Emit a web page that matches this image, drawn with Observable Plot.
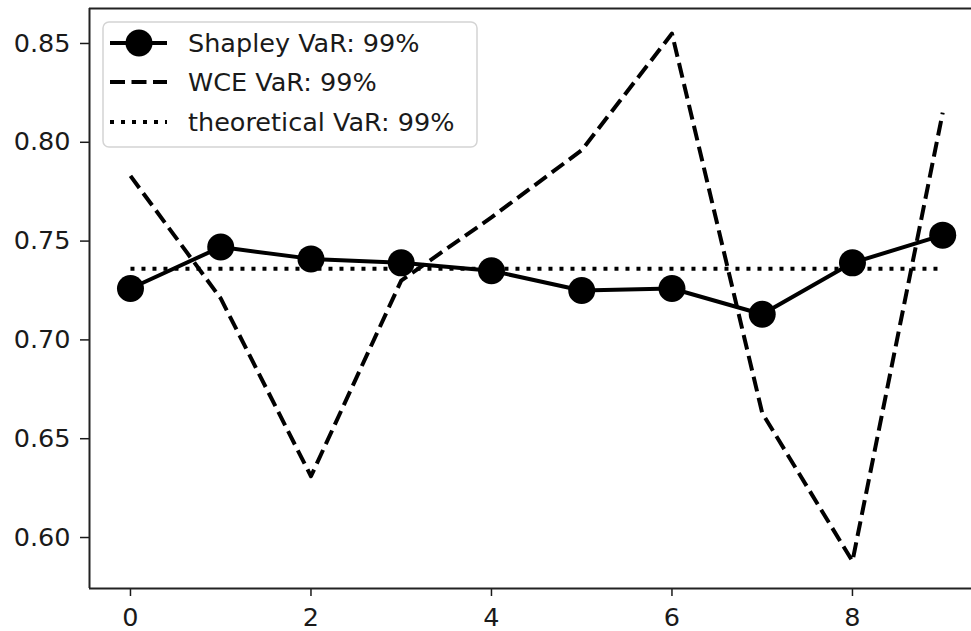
<!DOCTYPE html>
<html>
<head>
<meta charset="utf-8">
<script src="https://cdn.jsdelivr.net/npm/d3@7"></script>
<script src="https://cdn.jsdelivr.net/npm/@observablehq/plot@0.6"></script>
<style>
  html, body { margin: 0; padding: 0; background: #fff; }
  #chart { width: 971px; height: 631px; overflow: hidden; }
</style>
</head>
<body>
<div id="chart"></div>
<script>
// ---- data ----
const xs = [0, 1, 2, 3, 4, 5, 6, 7, 8, 9];
const shapleyVaR = [0.726, 0.747, 0.741, 0.739, 0.735, 0.725, 0.726, 0.713, 0.739, 0.753];
const wceVaR = [0.783, 0.721, 0.631, 0.730, 0.762, 0.796, 0.855, 0.663, 0.588, 0.815];
const theoreticalVaR = 0.736;
const xTicks = [0, 2, 4, 6, 8];
const yTicks = [0.60, 0.65, 0.70, 0.75, 0.80, 0.85];
const seriesLabels = ["Shapley VaR: 99%", "WCE VaR: 99%", "theoretical VaR: 99%"];
const xDomain = [-0.454, 9.319];
const yDomain = [0.5742, 0.8677];

const shapley = xs.map((x, i) => ({x, y: shapleyVaR[i]}));
const wce = xs.map((x, i) => ({x, y: wceVaR[i]}));
const theo = xs.map(x => ({x, y: theoreticalVaR}));

const FONT = "DejaVu Sans, sans-serif";
const LW = 4;

const plot = Plot.plot({
  width: 971,
  height: 631,
  marginLeft: 89,
  marginRight: 0,
  marginTop: 8,
  marginBottom: 43,
  style: {fontFamily: FONT, color: "#1a1a1a", background: "#fff", overflow: "hidden"},
  x: {domain: xDomain},
  y: {domain: yDomain},
  marks: [
    Plot.axisX({ticks: xTicks, tickSize: 8, tickPadding: 11, fontSize: 25.5, label: null, strokeWidth: 1.5}),
    Plot.axisY({ticks: yTicks, tickFormat: d3.format(".2f"), tickSize: 9, tickPadding: 10, fontSize: 25.5, label: null, strokeWidth: 1.5}),
    Plot.line(theo, {x: "x", y: "y", stroke: "#000", strokeWidth: LW, strokeDasharray: "4,7", strokeLinecap: "butt"}),
    Plot.line(wce, {x: "x", y: "y", stroke: "#000", strokeWidth: LW, strokeDasharray: "15,6.5", strokeLinecap: "butt"}),
    Plot.line(shapley, {x: "x", y: "y", stroke: "#000", strokeWidth: LW}),
    Plot.dot(shapley, {x: "x", y: "y", r: 13.5, fill: "#000", stroke: "none"}),
    Plot.ruleX([xDomain[0]], {stroke: "#222", strokeWidth: 2}),
    Plot.ruleY(yDomain, {stroke: "#222", strokeWidth: 2})
  ]
});

document.getElementById("chart").appendChild(plot);

// ---- legend (drawn into the same svg) ----
const svg = d3.select(plot);
const lg = svg.append("g").attr("font-family", FONT).attr("font-size", 25.5).attr("text-anchor", "start");
lg.append("rect")
  .attr("x", 103).attr("y", 22).attr("width", 374).attr("height", 125)
  .attr("rx", 6).attr("fill", "#fff").attr("fill-opacity", 0.85)
  .attr("stroke", "#d4d4d4").attr("stroke-width", 1.5);
const rowsY = [43, 82, 122];
const dashes = [null, "15,6.5", "4,7"];
seriesLabels.forEach((label, i) => {
  const y = rowsY[i];
  const ln = lg.append("line")
    .attr("x1", 110).attr("x2", 167).attr("y1", y).attr("y2", y)
    .attr("stroke", "#000").attr("stroke-width", LW);
  if (dashes[i]) ln.attr("stroke-dasharray", dashes[i]);
  if (i === 0) lg.append("circle").attr("cx", 139).attr("cy", y).attr("r", 13.5).attr("fill", "#000");
  lg.append("text").attr("x", 188).attr("y", y).attr("dy", "0.35em")
    .attr("text-anchor", "start").attr("fill", "#1a1a1a").text(label);
});
</script>
</body>
</html>
